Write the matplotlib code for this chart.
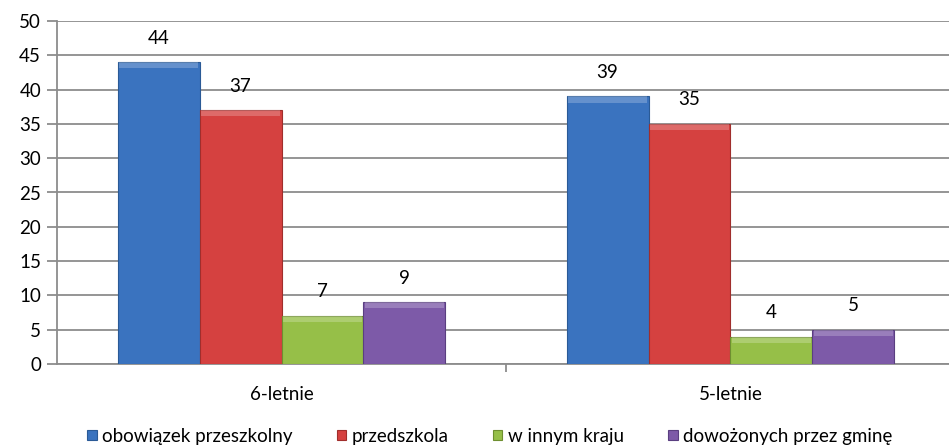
import matplotlib
matplotlib.use("Agg")
import matplotlib.pyplot as plt
import numpy as np

categories = ["6-letnie", "5-letnie"]
series_names = ["obowiązek przeszkolny", "przedszkola", "w innym kraju", "dowożonych przez gminę"]
values_obowiazek = [44, 39]
values_przedszkola = [37, 35]
values_kraj = [7, 4]
values_dowoz = [9, 5]
yticks = [0, 5, 10, 15, 20, 25, 30, 35, 40, 45, 50]

series = [values_obowiazek, values_przedszkola, values_kraj, values_dowoz]
colors = ["#3A73BF", "#D54140", "#96BF48", "#7D5AA8"]
edge_colors = ["#2A5A96", "#A02E2C", "#6E8F30", "#5A3F80"]

plt.rcParams['font.family'] = ['Lato', 'DejaVu Sans']
FS = 13.5

fig = plt.figure(figsize=(9.49, 4.48), dpi=100)
ax = fig.add_axes([57/949, 84/448, 898/949, 343/448])

x = np.arange(len(categories))
bw = 0.1826
for i, (vals, c, ec) in enumerate(zip(series, colors, edge_colors)):
    pos = x + (i - 1.5) * bw
    ax.bar(pos, vals, width=bw, color=c, edgecolor=ec, linewidth=0.8,
           label=series_names[i], zorder=3)
    # subtle bevel highlight along top
    ax.bar(pos, [0.9] * len(vals), bottom=np.array(vals) - 0.9, width=bw * 0.96,
           color="white", alpha=0.22, linewidth=0, zorder=4)
    for p, v in zip(pos, vals):
        ax.text(p, v + 3.5, str(v), ha="center", va="center", fontsize=FS,
                color="black", zorder=5)

ax.set_xlim(-0.5, 1.5)
ax.set_ylim(0, 50)
ax.set_yticks(yticks)
ax.yaxis.grid(True, color="#8C8C8C", linewidth=1.3, zorder=0)
ax.set_axisbelow(True)
for s in ["top", "right"]:
    ax.spines[s].set_visible(False)
for s in ["left", "bottom"]:
    ax.spines[s].set_color("#8C8C8C")
    ax.spines[s].set_linewidth(1.3)
ax.tick_params(axis="y", length=7, width=1.3, color="#8C8C8C", labelsize=FS, pad=4.5)
ax.set_xticks(x)
ax.set_xticklabels(categories, fontsize=FS)
ax.tick_params(axis="x", which="major", length=0, pad=16)
ax.set_xticks([0.5], minor=True)
ax.tick_params(axis="x", which="minor", length=6, width=1.3, color="#8C8C8C")

leg = fig.legend(loc="center", bbox_to_anchor=(490/949, 12/448), ncol=4, frameon=False,
                 fontsize=FS, handlelength=0.5, handleheight=0.5, handletextpad=0.3,
                 columnspacing=2.35)

fig.savefig("out.png", dpi=100)
